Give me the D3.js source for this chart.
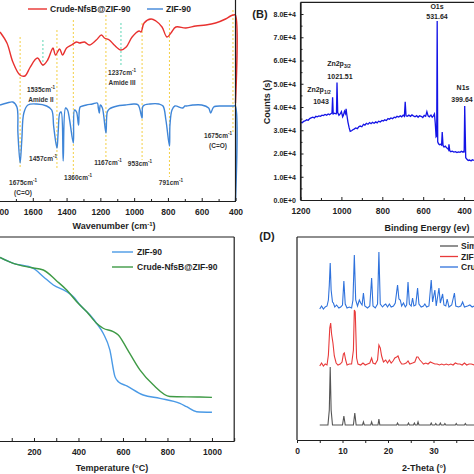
<!DOCTYPE html>
<html><head><meta charset="utf-8">
<script src="https://cdn.jsdelivr.net/npm/d3@7"></script>
<style>
body{margin:0;background:#fff}
svg{display:block;font-family:"Liberation Sans",Arial,sans-serif;font-weight:bold}
</style></head><body>
<svg id="c" width="474" height="474"></svg>
<script>
// ---------- Panel A : FTIR ----------
const irRedWave = [1794,1753,1718,1676,1647,1618,1588,1571,1540,1512,1488,1480,1465,1441,1424,1400,1371,1341,1324,1294,1265,1224,1194,1176,1147,1118,1078,1047,1012,971,959,941,900,871,835,806,782,753,694,635,576,518,459,429,412,401,400];
const irRedVal  = [169,158,139,126,125,133,141,143,136,141,151,153,146,152,146,153,156,159,158,159,156,161,166,163,161,156,151,154,164,170,169,178,182,180,174,164,168,174,173,175,176,178,182,185,186,186,98];
const irBlueWave = [1794,1753,1718,1694,1688,1675,1665,1653,1629,1576,1518,1488,1476,1457,1450,1440,1432,1420,1406,1394,1382,1360,1353,1341,1329,1320,1305,1282,1247,1218,1212,1206,1200,1188,1167,1159,1147,1100,1053,1000,976,953,947,906,853,829,812,791,788,776,759,712,700,690,653,600,559,547,529,482,453,424,410,401,400];
const irBlueVal  = [96,98,99,94,68,38,61,88,96,97,95,91,74,53,68,88,89,40,93,91,81,58,91,89,76,94,95,96,97,98,93,88,96,93,68,89,92,95,96,97,96,83,95,97,97,95,81,55,76,91,95,93,95,95,96,96,93,88,94,95,95,95,95,95,0];
const irXTicks = [1800,1600,1400,1200,1000,800,600,400];
const irMarkers = [ // [wavenumber, from, to, kind]
  [1675,164,34,"y"],[1457,171,31,"y"],[1360,181,26,"y"],[1167,186,38,"y"],
  [953,178,41,"y"],[791,181,24,"y"],[415,191,68,"y"],[1540,161,133,"t"],[1078,178,134,"t"]];
const irLabels = [ // [text, superscript, x, y]
  ["1535cm","-1",41,91.5],["Amide II","",41,101.5],["1237cm","-1",122,74.5],["Amide III","",122,84.5],
  ["1675cm","-1",23,184.5],["(C=O)","",23,194.5],["1457cm","-1",43,160.5],["1360cm","-1",78,179.5],
  ["1167cm","-1",108,164.5],["953cm","-1",140,165.5],["791cm","-1",171,184.5],
  ["1675cm","-1",218,137.5],["(C=O)","",218,147.5]];

// ---------- Panel B : XPS ----------
const xpsE = [1200,1192,1185,1178,1170,1162,1155,1148,1140,1132,1125,1118,1110,1102,1095,1088,1080,1072,1065,1058,1050,1046,1043,1040,1033,1026,1024,1021.5,1018,1012,1006,1000,994,990,985,980,977,974,968,962,957,950,944,938,930,922,915,908,900,892,885,878,870,862,855,848,840,832,825,818,810,802,795,788,780,772,765,758,750,742,735,728,720,712,705,698,692,688,684,678,670,662,655,648,640,632,625,618,610,602,595,588,582,576,570,562,556,550,545,541,537,534,531.6,529,525,520,515,510,507,503,498,492,486,480,476,474,470,465,458,450,442,435,428,420,413,406,402,399.6,397,392,386,380,373,366,360,352];
const xpsC = [33500,33200,33800,34000,34500,34300,35000,35300,35600,35300,36000,35800,36200,36000,36500,36300,36800,36500,37000,36700,37200,37400,44200,37000,37300,37000,37400,50500,37600,36400,37000,38000,35800,36500,38200,37200,39200,37000,33500,31000,29500,29800,30200,30500,31000,30700,31500,31800,31500,32500,32200,33000,32600,33300,32800,33400,33000,33600,33200,33900,33600,34200,34000,34500,34200,35000,34700,35300,35000,35600,35400,36000,35700,36200,35800,36500,36000,42200,36200,36000,36500,36000,36600,36200,35800,36300,35600,36200,36000,35500,36400,36000,38000,36200,35800,36500,35600,36200,37000,33000,27200,27500,77000,25000,24200,23800,24000,23600,29200,23500,22800,23200,22500,22200,21600,24000,21200,20800,21000,20600,20800,20400,20700,20500,21000,20600,21000,20400,40400,18200,17500,17000,17200,16800,17300,17000,17400];
const xpsYTicks = [0,10000,20000,30000,40000,50000,60000,70000,80000];
const xpsXTicks = [1200,1000,800,600,400];

// ---------- Panel C : TGA ----------
const tgaBlueT = [47,107,197,242,287,347,377,407,452,481,511,541,564,579,617,691,766,856,886,931,1000];
const tgaBlueW = [99.0,95.8,93.1,88.6,84.1,80.5,77.8,73.3,67.9,63.5,58.1,49.1,34.7,32.0,29.7,24.8,23.0,20.3,18.5,15.8,15.5];
const tgaGreenT = [47,107,182,242,302,347,392,437,481,511,556,579,617,676,736,811,946,1000];
const tgaGreenW = [99.0,95.8,93.6,92.2,86.3,81.4,75.1,69.7,63.5,60.8,59.0,57.2,50.0,38.4,30.3,24.0,23.7,23.5];
const tgaXTicks = [200,400,600,800,1000];

// ---------- Panel D : XRD ----------
const simT = [5.0,6.8,7.1,7.3,7.5,7.8,10.0,10.3,10.6,12.4,12.7,13.0,14.4,14.6,14.8,16.2,16.4,16.6,17.8,18.0,18.2,21.9,22.1,22.3,24.3,24.5,24.7,25.6,25.8,26.0,26.4,26.6,26.8,29.3,29.5,29.7,30.3,30.5,30.7,31.3,31.5,31.7,32.3,32.5,32.7,34.8,35.0,35.2,36.8,37.0,37.2,39.0];
const simI = [15,15,30,73,30,15,15,24,15,15,27,15,15,18,15,15,18,15,15,21,15,15,17,15,15,17,15,15,17,15,15,18,15,15,17,15,15,16.5,15,15,17,15,15,16.5,15,15,16.5,15,15,16.5,15,15];
const zifT = [5.0,5.4,5.8,6.2,6.6,6.9,7.2,7.4,7.6,7.9,8.2,8.6,9.0,9.5,9.9,10.2,10.4,10.7,11.0,11.5,12.0,12.4,12.6,12.8,13.1,13.4,14.0,14.5,15.0,15.5,16.0,16.4,16.7,17.2,17.7,18.0,18.3,18.6,19.0,19.5,19.9,20.3,20.7,21.1,21.5,21.9,22.2,22.6,23.0,23.5,24.0,24.4,24.8,25.4,25.9,26.3,26.6,27.0,27.4,27.8,28.3,28.8,29.3,29.8,30.3,30.8,31.3,31.8,32.3,32.8,33.3,33.8,34.3,34.8,35.3,35.8,36.3,36.8,37.3,37.8,38.3,39.0];
const zifI = [74,77,74,76,75,85,112,117,106,97,84,77,75,76,78,86,87,80,75,76,76,90,130,128,82,76,75,77,75,76,77,82,77,76,80,95,92,84,78,80,77,80,77,79,82,83,84,79,76,76,77,79,76,77,78,83,83,80,78,76,77,76,78,77,76,76,75,76,75,76,75,76,75,77,76,76,75,77,75,76,76,75];
const crudeT = [5.0,5.4,5.8,6.2,6.6,6.9,7.1,7.3,7.5,7.8,8.0,8.3,8.7,9.2,9.6,10.0,10.3,10.6,11.0,11.5,12.0,12.3,12.6,12.9,13.3,13.7,14.0,14.3,14.6,14.9,15.5,16.0,16.4,16.7,17.2,17.7,18.0,18.3,18.8,19.2,19.5,19.9,20.3,20.7,21.2,21.6,21.9,22.1,22.4,22.7,23.0,23.4,23.8,24.1,24.4,24.7,25.1,25.4,25.7,26.1,26.5,26.8,27.3,27.8,28.1,28.5,29.0,29.5,29.8,30.3,30.6,31.2,31.5,32.0,32.3,32.7,33.0,33.4,34.0,34.6,34.9,35.5,36.0,36.4,36.8,37.5,38.0,38.5,39.0];
const crudeI = [131,134,131,133,134,140,155,177,150,138,137,133,135,132,133,135,159,136,132,133,132,140,185,140,134,140,137,135,147,134,132,134,162,134,132,136,188,136,133,135,136,133,136,133,134,137,148,155,141,140,134,137,133,135,158,136,134,142,134,135,152,136,133,134,136,133,134,160,138,150,134,152,137,146,135,134,141,133,135,147,134,133,134,138,133,134,135,133,134];
const xrdXTicks = [0,10,20,30];
const xrdLegend = ["Simulated","ZIF-90","Crude-NfsB@ZIF-90"];

// ======================================================
const svg = d3.select("#c");
svg.append("rect").attr("width",474).attr("height",474).attr("fill","#fff");
const INK = "#1e1e1e";
const fmtInt = d3.format("d");

function styleAxis(g, fs){
  g.select(".domain").attr("stroke",INK).attr("stroke-width",1.2);
  g.selectAll(".tick line").attr("stroke",INK).attr("stroke-width",1);
  g.selectAll(".tick text").attr("fill",INK).attr("font-size",fs).attr("font-family","'Liberation Sans',Arial,sans-serif").attr("font-weight","bold");
}
function txt(x,y,s,fs,anchor,col){
  return svg.append("text").attr("x",x).attr("y",y).attr("font-size",fs)
    .attr("text-anchor",anchor||"middle").attr("fill",col||INK).text(s);
}

// ---------- Panel A ----------
{
  const x = d3.scaleLinear().domain([1800,400]).range([-1,235.5]);
  const y = d3.scaleLinear().domain([0,201]).range([201,0]);
  irMarkers.forEach(m=>{
    svg.append("line").attr("x1",x(m[0])).attr("x2",x(m[0])).attr("y1",y(m[1])).attr("y2",y(m[2]))
      .attr("stroke", m[3]==="y" ? "#f3cf45" : "#5ed6b4").attr("stroke-width",1).attr("stroke-dasharray","2,2");
  });
  const line = d3.line().x(d=>x(d[0])).y(d=>y(d[1])).curve(d3.curveCatmullRom.alpha(0.5));
  svg.append("path").datum(irRedWave.map((w,i)=>[w,irRedVal[i]])).attr("d",line)
    .attr("fill","none").attr("stroke","#e8312f").attr("stroke-width",1.4);
  svg.append("path").datum(irBlueWave.map((w,i)=>[w,irBlueVal[i]])).attr("d",line)
    .attr("fill","none").attr("stroke","#3f86d8").attr("stroke-width",1.4);
  const gx = svg.append("g").attr("transform","translate(0,201)")
    .call(d3.axisBottom(x).tickValues(irXTicks).tickFormat(fmtInt).tickSize(-3).tickPadding(8).tickSizeOuter(0));
  styleAxis(gx,8.5);
  const gm = svg.append("g").attr("transform","translate(0,201)")
    .call(d3.axisBottom(x).tickValues([1700,1500,1300,1100,900,700,500]).tickSize(-2).tickFormat("").tickSizeOuter(0));
  gm.select(".domain").remove(); gm.selectAll("line").attr("stroke",INK);
  svg.append("line").attr("x1",235.5).attr("x2",235.5).attr("y1",-2).attr("y2",201).attr("stroke",INK).attr("stroke-width",1.2);
  irLabels.forEach(l=>{
    const t = txt(l[2],l[3],l[0],6.5,"middle","#333");
    if(l[1]) t.append("tspan").attr("dy",-2.5).attr("font-size",4.5).text(l[1]);
  });
  const tt = txt(114,229,"Wavenumber (cm",9);
  tt.append("tspan").attr("dy",-3).attr("font-size",6).text("-1");
  tt.append("tspan").attr("dy",3).text(")");
  svg.append("line").attr("x1",28).attr("x2",47).attr("y1",9).attr("y2",9).attr("stroke","#e8312f").attr("stroke-width",1.4);
  txt(50,12,"Crude-NfsB@ZIF-90",8.5,"start");
  svg.append("line").attr("x1",147).attr("x2",163).attr("y1",9).attr("y2",9).attr("stroke","#3f86d8").attr("stroke-width",1.4);
  txt(166,12,"ZIF-90",8.5,"start");
}

// ---------- Panel B ----------
{
  const x = d3.scaleLinear().domain([1200,0]).range([300.5,300.5+1200*0.2045]);
  const y = d3.scaleLinear().domain([0,85000]).range([200,2.4]);
  const line = d3.line().x(d=>x(d[0])).y(d=>y(d[1]));
  svg.append("path").datum(xpsE.map((e,i)=>[e,xpsC[i]])).attr("d",line)
    .attr("fill","none").attr("stroke","#1414e6").attr("stroke-width",1.3);
  const gy = svg.append("g").attr("transform","translate(300.5,0)")
    .call(d3.axisLeft(y).tickValues(xpsYTicks).tickSize(-3).tickPadding(4.5).tickSizeOuter(0)
      .tickFormat(v=> v===0 ? "0.0E+0" : (v/1e4).toFixed(1)+"E+4"));
  styleAxis(gy,7);
  const gym = svg.append("g").attr("transform","translate(300.5,0)")
    .call(d3.axisLeft(y).tickValues(d3.range(5000,85000,10000)).tickSize(-2).tickFormat("").tickSizeOuter(0));
  gym.select(".domain").remove(); gym.selectAll("line").attr("stroke",INK);
  svg.append("line").attr("x1",300.5).attr("x2",300.5).attr("y1",2.4).attr("y2",200).attr("stroke",INK).attr("stroke-width",1.2);
  const gx = svg.append("g").attr("transform","translate(0,200)")
    .call(d3.axisBottom(x).tickValues(xpsXTicks).tickFormat(fmtInt).tickSize(-3).tickPadding(8).tickSizeOuter(0));
  styleAxis(gx,8.5);
  const gxm = svg.append("g").attr("transform","translate(0,200)")
    .call(d3.axisBottom(x).tickValues([1100,900,700,500]).tickSize(-2).tickFormat("").tickSizeOuter(0));
  gxm.select(".domain").remove(); gxm.selectAll("line").attr("stroke",INK);
  svg.append("line").attr("x1",300.5).attr("x2",480).attr("y1",2.4).attr("y2",2.4).attr("stroke",INK).attr("stroke-width",1.2);
  txt(437,9,"O1s",7); txt(437,18.5,"531.64",7);
  txt(463,90,"N1s",7); txt(462,101.5,"399.64",7);
  const z1 = txt(339,66,"Zn2p",7); z1.append("tspan").attr("dy",2).attr("font-size",5).text("3/2");
  txt(340,79,"1021.51",7);
  const z2 = txt(319,92,"Zn2p",7); z2.append("tspan").attr("dy",2).attr("font-size",5).text("1/2");
  txt(321,104,"1043",7);
  txt(427,231,"Binding Energy (ev)",9);
  svg.append("text").attr("transform","translate(270,102) rotate(-90)").attr("text-anchor","middle")
    .attr("font-size",9).attr("fill",INK).text("Counts (s)");
  txt(260,17.5,"(B)",11);
}

// ---------- Panel C ----------
{
  const x = d3.scaleLinear().domain([0,1100]).range([-10.5,234.2]);
  const y = d3.scaleLinear().domain([0,110]).range([441,237]);
  const line = d3.line().x(d=>x(d[0])).y(d=>y(d[1])).curve(d3.curveMonotoneX);
  svg.append("path").datum(tgaBlueT.map((t,i)=>[t,tgaBlueW[i]])).attr("d",line)
    .attr("fill","none").attr("stroke","#4a9ae6").attr("stroke-width",1.4);
  svg.append("path").datum(tgaGreenT.map((t,i)=>[t,tgaGreenW[i]])).attr("d",line)
    .attr("fill","none").attr("stroke","#3e9a45").attr("stroke-width",1.4);
  const gx = svg.append("g").attr("transform","translate(0,441)")
    .call(d3.axisBottom(x).tickValues(tgaXTicks).tickFormat(fmtInt).tickSize(-3).tickPadding(8).tickSizeOuter(0));
  styleAxis(gx,8.5);
  const gxm = svg.append("g").attr("transform","translate(0,441)")
    .call(d3.axisBottom(x).tickValues([100,300,500,700,900,1100]).tickSize(-3).tickFormat("").tickSizeOuter(0));
  gxm.select(".domain").remove(); gxm.selectAll("line").attr("stroke",INK);
  svg.append("line").attr("x1",-2).attr("x2",234.2).attr("y1",237).attr("y2",237).attr("stroke",INK).attr("stroke-width",1.2);
  svg.append("line").attr("x1",234.2).attr("x2",234.2).attr("y1",237).attr("y2",441).attr("stroke",INK).attr("stroke-width",1.2);
  txt(112,471,"Temperature (°C)",9);
  svg.append("line").attr("x1",112).attr("x2",133).attr("y1",252).attr("y2",252).attr("stroke","#4a9ae6").attr("stroke-width",1.4);
  txt(137,255,"ZIF-90",8.5,"start");
  svg.append("line").attr("x1",112).attr("x2",133).attr("y1",267).attr("y2",267).attr("stroke","#3e9a45").attr("stroke-width",1.4);
  txt(137,270,"Crude-NfsB@ZIF-90",8.5,"start");
}

// ---------- Panel D ----------
{
  const x = d3.scaleLinear().domain([0,40]).range([297,297+40*4.55]);
  const y = d3.scaleLinear().domain([0,203]).range([440,237]);
  const line = d3.line().x(d=>x(d[0])).y(d=>y(d[1]));
  const cols = ["#555555","#e83a3a","#2f72dc"];
  [[simT,simI],[zifT,zifI],[crudeT,crudeI]].forEach((s,k)=>{
    svg.append("path").datum(s[0].map((t,i)=>[t,s[1][i]])).attr("d",line)
      .attr("fill","none").attr("stroke",cols[k]).attr("stroke-width",1.1);
  });
  const gx = svg.append("g").attr("transform","translate(0,440)")
    .call(d3.axisBottom(x).tickValues(xrdXTicks).tickFormat(fmtInt).tickSize(3).tickPadding(5).tickSizeOuter(0));
  styleAxis(gx,8.5);
  const gxm = svg.append("g").attr("transform","translate(0,440)")
    .call(d3.axisBottom(x).tickValues([5,15,25,35]).tickSize(3).tickFormat("").tickSizeOuter(0));
  gxm.select(".domain").remove(); gxm.selectAll("line").attr("stroke",INK);
  svg.append("line").attr("x1",297).attr("x2",297).attr("y1",237).attr("y2",440).attr("stroke",INK).attr("stroke-width",1.2);
  svg.append("line").attr("x1",297).attr("x2",480).attr("y1",237).attr("y2",237).attr("stroke",INK).attr("stroke-width",1.2);
  txt(424,471,"2-Theta (°)",9);
  txt(267,240,"(D)",11);
  xrdLegend.forEach((s,k)=>{
    const yy = 246 + k*10.5;
    svg.append("line").attr("x1",440).attr("x2",458).attr("y1",yy).attr("y2",yy).attr("stroke",cols[k]).attr("stroke-width",1.3);
    txt(461,yy+3,s,8.5,"start");
  });
}
</script></body></html>
